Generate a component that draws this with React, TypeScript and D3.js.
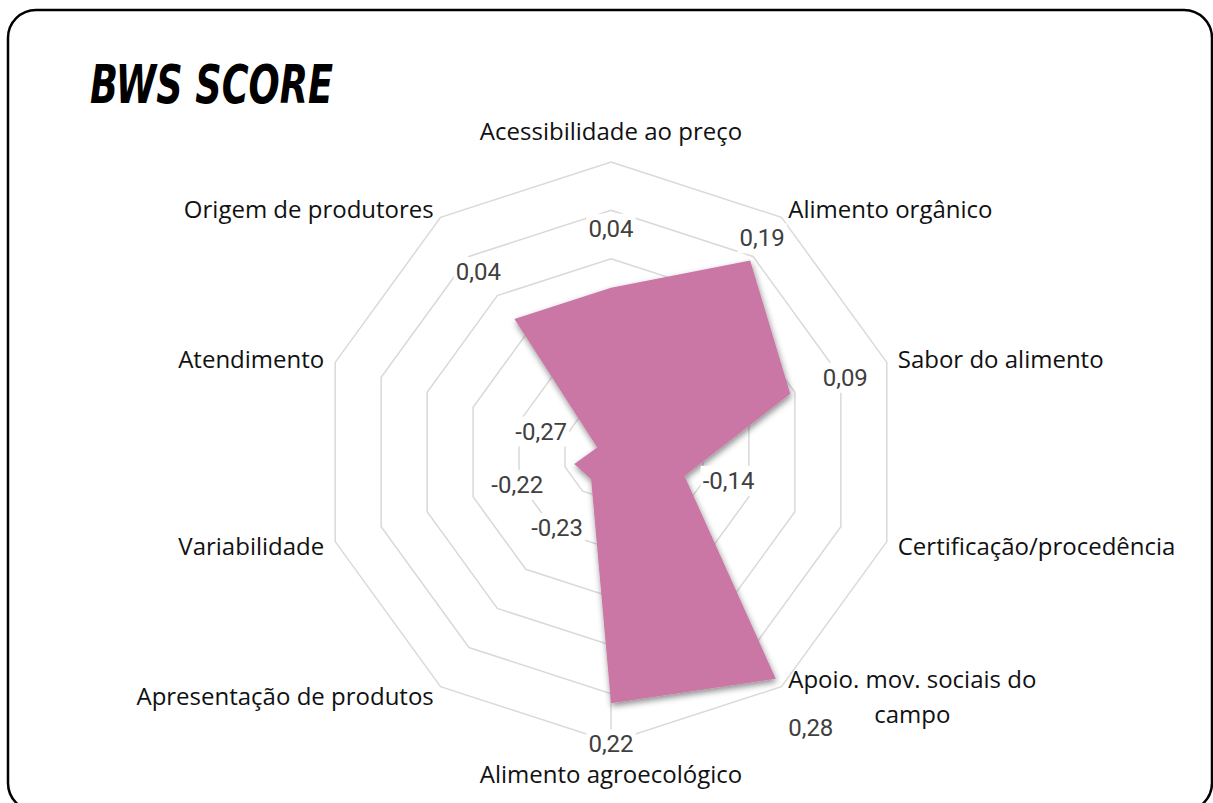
import React, { useEffect, useRef } from "react";
import * as d3 from "d3";

// ---------- data ----------
const categories = [
  "Acessibilidade ao preço",
  "Alimento orgânico",
  "Sabor do alimento",
  "Certificação/procedência",
  "Apoio. mov. sociais do\ncampo",
  "Alimento agroecológico",
  "Apresentação de produtos",
  "Variabilidade",
  "Atendimento",
  "Origem de produtores",
];
const scores = [0.04, 0.19, 0.09, -0.14, 0.28, 0.22, -0.23, -0.22, -0.27, 0.04];
const axisTicks = [-0.3, -0.2, -0.1, 0, 0.1, 0.2, 0.3];
const chartTitle = "BWS SCORE";

// ---------- layout ----------
const W = 1213;
const H = 803;
const CX = 611;
const CY = 452;
const R = 290;
const LABEL_GAP = 11.5;
// data label offsets from their point (px)
const labelOffsets: [number, number][] = [
  [0, -59],
  [12, -22],
  [55, -16],
  [44, 5],
  [35, 49],
  [0, 41],
  [-34, 49],
  [-57, 21],
  [-56, -16],
  [-36, -47],
];
const VALUE_AXIS_INDEX = 5;
const FILL = "#CA77A5";
const GRID = "#D9D9D9";

export default function App() {
  const ref = useRef<SVGSVGElement | null>(null);

  useEffect(() => {
    const svg = d3.select(ref.current);
    svg.selectAll("*").remove();

    const n = categories.length;
    const angle = d3
      .scaleLinear()
      .domain([0, n])
      .range([0, 2 * Math.PI]);
    const r = d3
      .scaleLinear()
      .domain([axisTicks[0], axisTicks[axisTicks.length - 1]])
      .range([0, R]);
    const px = (i: number, rr: number) => CX + rr * Math.sin(angle(i));
    const py = (i: number, rr: number) => CY - rr * Math.cos(angle(i));

    const locale = d3.formatLocale({
      decimal: ",",
      thousands: ".",
      grouping: [3],
      currency: ["R$", ""],
      minus: "-",
    });
    const fmt = locale.format(".2f");

    const defs = svg.append("defs");
    const f = defs
      .append("filter")
      .attr("id", "shadow")
      .attr("x", "-20%")
      .attr("y", "-20%")
      .attr("width", "140%")
      .attr("height", "140%");
    f.append("feDropShadow")
      .attr("dx", 1)
      .attr("dy", 3)
      .attr("stdDeviation", 3)
      .attr("flood-color", "#000")
      .attr("flood-opacity", 0.45);

    svg.append("rect").attr("width", W).attr("height", H).attr("fill", "#fff");

    // frame
    svg
      .append("rect")
      .attr("x", 8)
      .attr("y", 10)
      .attr("width", 1204)
      .attr("height", 801)
      .attr("rx", 28)
      .attr("fill", "none")
      .attr("stroke", "#000")
      .attr("stroke-width", 2.5);

    // title
    svg
      .append("text")
      .attr("x", 90)
      .attr("y", 103)
      .attr("font-family", "'Liberation Sans Narrow', 'DejaVu Sans Condensed', sans-serif")
      .attr("font-weight", "bold")
      .attr("font-style", "italic")
      .attr("font-size", 53)
      .attr("textLength", 243)
      .attr("lengthAdjust", "spacingAndGlyphs")
      .attr("fill", "#000")
      .text(chartTitle);

    // grid rings
    const ringLine = d3.line<number>()
      .x((_, i) => 0)
      .y(() => 0);
    void ringLine;
    const idx = d3.range(n);
    axisTicks.slice(1).forEach((t) => {
      const pts = idx.map((i) => [px(i, r(t)), py(i, r(t))] as [number, number]);
      svg
        .append("path")
        .attr("d", d3.line().curve(d3.curveLinearClosed)(pts))
        .attr("fill", "none")
        .attr("stroke", GRID)
        .attr("stroke-width", 1.5);
    });

    // value axis spoke
    svg
      .append("line")
      .attr("x1", CX)
      .attr("y1", CY)
      .attr("x2", px(VALUE_AXIS_INDEX, R))
      .attr("y2", py(VALUE_AXIS_INDEX, R))
      .attr("stroke", GRID)
      .attr("stroke-width", 1.5);

    // series polygon
    const dataPts = scores.map((v, i) => [px(i, r(v)), py(i, r(v))] as [number, number]);
    svg
      .append("path")
      .attr("d", d3.line().curve(d3.curveLinearClosed)(dataPts))
      .attr("fill", FILL)
      .attr("filter", "url(#shadow)");

    // data labels
    scores.forEach((v, i) => {
      const [x, y] = dataPts[i];
      const [dx, dy] = labelOffsets[i];
      const g = svg.append("g");
      const t = g
        .append("text")
        .attr("x", x + dx)
        .attr("y", y + dy)
        .attr("text-anchor", "middle")
        .attr("dominant-baseline", "central")
        .attr("font-family", "Roboto, sans-serif")
        .attr("font-size", 24)
        .attr("fill", "#404040")
        .text(fmt(v));
      const bb = (t.node() as SVGTextElement).getBBox();
      g.insert("rect", "text")
        .attr("x", bb.x - 2)
        .attr("y", bb.y - 1)
        .attr("width", bb.width + 4)
        .attr("height", bb.height + 2)
        .attr("fill", "#fff");
    });

    // category labels
    categories.forEach((c, i) => {
      const a = angle(i);
      const s = Math.sin(a);
      const co = Math.cos(a);
      const rr = R + LABEL_GAP;
      let x = px(i, rr);
      let y = py(i, rr);
      let anchor = "middle";
      if (s > 0.01) anchor = "start";
      else if (s < -0.01) anchor = "end";
      if (anchor === "middle") y += co > 0 ? -20 : 20;
      const lines = c.split("\n");
      const lh = 35;
      const t = svg
        .append("text")
        .attr("font-family", "'Open Sans', sans-serif")
        .attr("font-size", 24)
        .attr("fill", "#111")
        .attr("dominant-baseline", "central");
      if (lines.length === 1) {
        t.attr("x", x).attr("y", y).attr("text-anchor", anchor).text(c);
      } else {
        const spans = lines.map((ln, k) =>
          t
            .append("tspan")
            .attr("y", y + (k - (lines.length - 1) / 2) * lh)
            .text(ln)
        );
        const widths = spans.map((sp) => (sp.node() as SVGTSpanElement).getComputedTextLength());
        const mw = d3.max(widths) || 0;
        const centerX = anchor === "start" ? x + mw / 2 : anchor === "end" ? x - mw / 2 : x;
        spans.forEach((sp) => sp.attr("x", centerX).attr("text-anchor", "middle"));
      }
    });
  }, []);

  return (
    <svg
      ref={ref}
      width={W}
      height={H}
      style={{ position: "absolute", left: 0, top: 0, display: "block" }}
    />
  );
}
